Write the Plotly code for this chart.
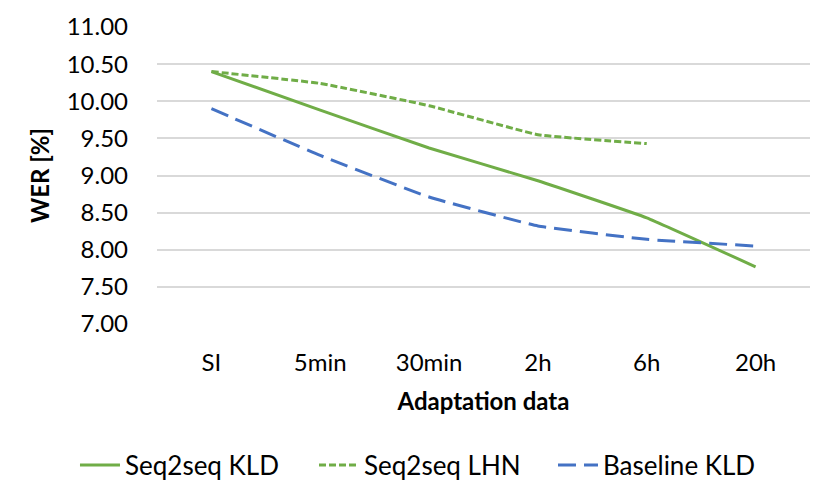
import plotly.graph_objects as go

categories = ["SI", "5min", "30min", "2h", "6h", "20h"]
seq2seq_kld = [10.40, 9.88, 9.37, 8.93, 8.43, 7.77]
seq2seq_lhn = [10.40, 10.24, 9.94, 9.55, 9.43, None]
baseline_kld = [9.90, 9.27, 8.71, 8.32, 8.14, 8.05]
y_ticks = [7.0, 7.5, 8.0, 8.5, 9.0, 9.5, 10.0, 10.5, 11.0]

GREEN = "#70AD47"
BLUE = "#4472C4"
FONT = "Lato"

fig = go.Figure()
fig.add_trace(go.Scatter(x=categories, y=seq2seq_kld, name="Seq2seq KLD", mode="lines",
                         line=dict(color=GREEN, width=3, shape="spline", smoothing=0.3)))
fig.add_trace(go.Scatter(x=categories, y=seq2seq_lhn, name="Seq2seq LHN", mode="lines",
                         line=dict(color=GREEN, width=3, dash="7px,3px", shape="spline", smoothing=0.3)))
fig.add_trace(go.Scatter(x=categories, y=baseline_kld, name="Baseline KLD", mode="lines",
                         line=dict(color=BLUE, width=3, dash="18px,8px", shape="spline", smoothing=0.3)))

# page body has an 8px default margin, so the figure is 8px smaller
fig.update_layout(
    width=822, height=491,
    margin=dict(l=149, r=20, t=19, b=175, autoexpand=False),
    paper_bgcolor="white", plot_bgcolor="white",
    font=dict(family=FONT, size=24, color="#000000"),
    showlegend=True,
    legend=dict(orientation="h", xref="paper", yref="paper",
                x=-0.1256, xanchor="left", y=-0.4747, yanchor="middle",
                font=dict(family=FONT, size=26, color="#000000"),
                itemwidth=40, entrywidth=184, entrywidthmode="pixels",
                tracegroupgap=0, bgcolor="rgba(0,0,0,0)"),
    xaxis=dict(type="category", range=[-0.5, 5.5], showgrid=False, automargin=False,
               showline=False, zeroline=False, ticks="",
               ticklabelstandoff=22,
               tickfont=dict(family=FONT, size=24, color="#000000"),
               title=dict(text="<b>Adaptation data</b>", standoff=18,
                          font=dict(family=FONT, size=24, color="#000000"))),
    yaxis=dict(range=[7, 11], tickvals=y_ticks, tickformat=".2f", automargin=False,
               showgrid=True, gridcolor="#D9D9D9", gridwidth=1.5,
               zeroline=False, showline=False, ticks="",
               ticklabelstandoff=28,
               tickfont=dict(family=FONT, size=24, color="#000000"),
               title=dict(text="<b>WER [%]</b>", standoff=10,
                          font=dict(family=FONT, size=24, color="#000000"))),
)

fig.write_html("out.html")
